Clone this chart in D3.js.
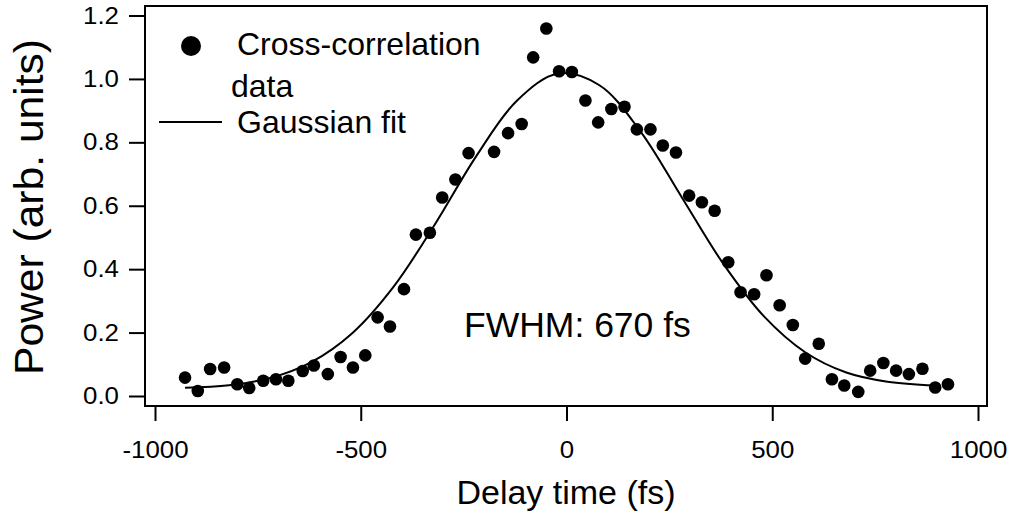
<!DOCTYPE html>
<html>
<head>
<meta charset="utf-8">
<script src="https://cdn.jsdelivr.net/npm/d3@7"></script>
<style>
  body { margin: 0; background: #fff; }
  svg { font-family: Arial, "Liberation Sans", sans-serif; }
</style>
</head>
<body>
<svg id="chart" width="1013" height="515"></svg>
<script>
// measured cross-correlation points (delay in fs, power in arb. units)
var delay = [-927, -896, -866, -832, -800, -771, -737, -706, -676, -641,
             -614, -580, -549, -519, -489, -459, -429, -395, -366, -332,
             -302, -270, -238, -176, -142, -109, -81, -49, -18, 13,
             46, 77, 109, 141, 171, 204, 234, 266, 298, 329,
             360, 393, 423, 456, 486, 518, 550, 580, 613, 645,
             675, 709, 738, 770, 801, 832, 865, 896, 927];
var power = [0.058, 0.016, 0.085, 0.090, 0.037, 0.025, 0.048, 0.053, 0.048, 0.079,
             0.096, 0.069, 0.123, 0.090, 0.128, 0.248, 0.219, 0.337, 0.509, 0.515,
             0.626, 0.683, 0.766, 0.770, 0.829, 0.858, 1.068, 1.159, 1.024, 1.022,
             0.932, 0.863, 0.905, 0.912, 0.841, 0.841, 0.790, 0.768, 0.632, 0.611,
             0.584, 0.422, 0.327, 0.321, 0.381, 0.286, 0.224, 0.118, 0.165, 0.053,
             0.033, 0.013, 0.080, 0.104, 0.080, 0.069, 0.086, 0.027, 0.037];

// gaussian fit curve
var fitDelay = [-927, -820, -720, -620, -520, -420, -320, -220, -120, -20,
                80, 180, 280, 380, 480, 580, 680, 780, 896];
var fitPower = [0.026, 0.034, 0.057, 0.107, 0.199, 0.345, 0.541, 0.755, 0.932, 1.017,
                0.980, 0.834, 0.627, 0.419, 0.251, 0.138, 0.074, 0.045, 0.033];

var xTicks = [-1000, -500, 0, 500, 1000];
var yTicks = [0, 0.2, 0.4, 0.6, 0.8, 1.0, 1.2];

var svg = d3.select("#chart");

var x = d3.scaleLinear().domain([-1000, 1000]).range([155, 978]);
var y = d3.scaleLinear().domain([0, 1.2]).range([396, 15.5]);

// frame
svg.append("rect").attr("x", 145).attr("y", 6).attr("width", 842).attr("height", 400)
   .attr("fill", "none").attr("stroke", "#000").attr("stroke-width", 2);

var xAxis = svg.append("g").attr("transform", "translate(0,406)")
   .call(d3.axisBottom(x).tickValues(xTicks).tickSize(15).tickPadding(20)
         .tickFormat(function (d) { return String(d); }));
var yAxis = svg.append("g").attr("transform", "translate(145,0)")
   .call(d3.axisLeft(y).tickValues(yTicks).tickSize(16).tickPadding(10)
         .tickFormat(d3.format(".1f")));

[xAxis, yAxis].forEach(function (g) {
  g.select(".domain").remove();
  g.selectAll(".tick line").attr("stroke", "#000").attr("stroke-width", 2);
  g.selectAll(".tick text").attr("fill", "#000").style("font-size", "23.5px")
   .style("font-family", "Arial, 'Liberation Sans', sans-serif")
   .each(function () {
     // labels in the original are a little wider than plain Arial
     var w = this.getComputedTextLength();
     d3.select(this).attr("textLength", w * 1.1).attr("lengthAdjust", "spacingAndGlyphs");
   });
});

// fit line
var line = d3.line()
   .x(function (d, i) { return x(fitDelay[i]); })
   .y(function (d) { return y(d); })
   .curve(d3.curveCatmullRom);
svg.append("path").datum(fitPower).attr("d", line)
   .attr("fill", "none").attr("stroke", "#000").attr("stroke-width", 2);

// data points
svg.append("g").selectAll("circle").data(power).enter().append("circle")
   .attr("cx", function (d, i) { return x(delay[i]); })
   .attr("cy", function (d) { return y(d); })
   .attr("r", 6.3).attr("fill", "#000");

// legend
svg.append("circle").attr("cx", 191).attr("cy", 46).attr("r", 10).attr("fill", "#000");
svg.append("text").attr("x", 237).attr("y", 55).text("Cross-correlation").style("font-size", "32px");
svg.append("text").attr("x", 231).attr("y", 97).text("data").style("font-size", "32px");
svg.append("line").attr("x1", 159).attr("x2", 222).attr("y1", 122).attr("y2", 122)
   .attr("stroke", "#000").attr("stroke-width", 2);
svg.append("text").attr("x", 237).attr("y", 133).text("Gaussian fit").style("font-size", "32px");

// annotation
svg.append("text").attr("x", 464).attr("y", 337).text("FWHM: 670 fs").style("font-size", "35.5px");

// axis titles
svg.append("text").attr("x", 566).attr("y", 504).attr("text-anchor", "middle")
   .text("Delay time (fs)").style("font-size", "34px");
svg.append("text").attr("transform", "translate(43,207) rotate(-90)").attr("text-anchor", "middle")
   .attr("textLength", 336).attr("lengthAdjust", "spacingAndGlyphs")
   .text("Power (arb. units)").style("font-size", "40px");
</script>
</body>
</html>
